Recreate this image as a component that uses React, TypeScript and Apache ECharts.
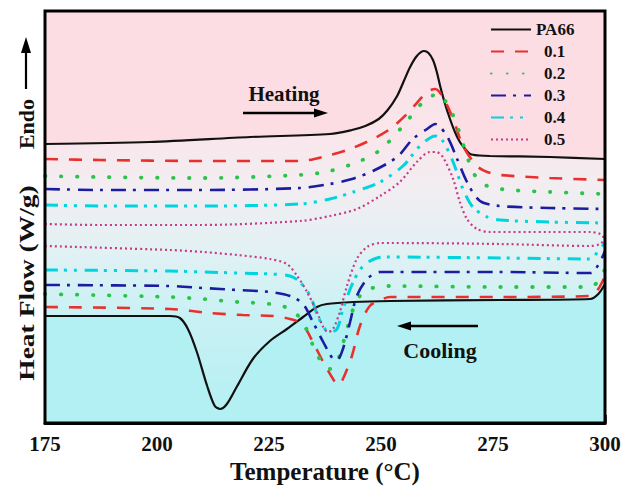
import React, { useEffect, useRef } from "react";
import * as echarts from "echarts";

// Temperature (°C) vs heat flow (arbitrary offset units, plotted stack)
const xTicks = [175, 200, 225, 250, 275, 300];
const sampleNames = ["PA66", "0.1", "0.2", "0.3", "0.4", "0.5"];

const pa66Heating = [[175,279],[198.4,281],[220.8,286],[238.6,289],[243.5,293],[246.5,297],[249.5,304],[251.5,313],[253.6,327],[255.1,342],[256.5,356],[258.0,367],[259.6,372],[260.6,370],[261.6,363],[262.4,352],[263.2,337],[264.3,319],[265.4,304],[266.5,291],[267.6,281],[268.8,274],[269.9,269],[272,267.5],[274.3,267],[287.7,266],[300,264]];
const s01Heating = [[175,264],[187.3,263],[209.6,262],[231.9,262],[238.6,268],[243.1,274],[248.2,284],[252.0,294],[255.8,309],[260.3,331],[262.1,334],[263.8,326],[266.1,304],[268.3,277],[271.4,257],[273.7,251],[276.6,248],[287.7,245],[300,243]];
const s02Heating = [[175,247],[187.3,246],[209.6,245],[231.9,248],[238.6,252],[245.3,262],[249.8,273],[254.9,297],[259.4,321],[262.7,329],[265.4,314],[267.0,297],[269.2,267],[270.5,251],[272.8,239],[276.6,234],[287.7,231],[300,229]];
const s03Heating = [[175,234],[187.3,233],[209.6,233],[231.9,235],[238.6,239],[243.5,244],[248.2,252],[253.6,266],[257.1,284],[260.3,294],[262.1,299],[264.7,287],[267.0,264],[269.2,241],[272.1,222],[276.6,217],[287.7,215],[300,214]];
const s04Heating = [[175,218],[187.3,217],[209.6,217],[231.9,219],[238.6,224],[243.8,231],[249.8,241],[254.9,257],[258.7,277],[262.1,287],[263.8,282],[266.1,261],[268.3,234],[270.5,216],[273.7,206],[276.6,203],[287.7,201],[300,200]];
const s05Heating = [[175,199],[187.3,198],[209.6,198],[231.9,202],[238.6,207],[244.6,214],[249.8,227],[254.2,241],[258.0,261],[260.9,271],[262.3,271],[263.8,266],[266.1,244],[267.6,221],[269.2,204],[271.4,194],[274.3,191],[287.7,191],[296.7,191],[298.9,189],[300,184]];

const pa66Cooling = [[175,107],[202.9,107],[205.1,105],[206.9,94],[208.9,71],[211.2,37],[212.9,17],[214.1,14],[215.6,19],[217.9,37],[221.4,64],[225.2,82],[229.0,94],[232.6,106],[235.7,116],[237.9,119],[243.8,121],[252.0,122],[276.6,123],[296.7,124],[298.5,129],[300,139]];
const s01Cooling = [[175,116],[202.9,114],[211.8,110],[219.2,108],[225.9,107],[229.7,104],[232.4,99],[234.8,81],[237.1,61],[239.3,44],[240.4,38],[241.5,44],[243.5,67],[245.3,97],[247.5,117],[250.4,124],[252.0,126],[276.6,126],[296.7,127],[298.5,134],[300,147]];
const s02Cooling = [[175,129],[202.9,126],[210.3,124],[217.9,121],[225.2,119],[229.7,114],[232.6,101],[234.2,84],[235.9,67],[237.5,56],[238.6,54],[240.2,61],[242.0,87],[243.8,114],[246.0,131],[249.1,136],[252.0,137],[276.6,136],[296.7,136],[298.5,142],[300,154]];
const s03Cooling = [[175,138],[202.9,137],[210.3,135],[217.9,133],[225.2,131],[229.7,127],[232.6,119],[234.8,101],[237.1,81],[239.3,64],[240.2,63],[241.5,74],[243.1,101],[244.6,127],[246.9,144],[249.8,151],[252.0,151],[276.6,151],[296.7,150],[298.5,158],[300,172]];
const s04Cooling = [[175,153],[202.9,152],[210.3,151],[217.9,150],[225.2,149],[229.7,147],[231.9,141],[234.2,127],[235.9,107],[237.5,94],[238.6,91],[240.2,94],[241.5,114],[243.8,141],[246.0,157],[249.1,165],[252.0,166],[276.6,165],[296.7,164],[298.5,172],[300,180]];
const s05Cooling = [[175,177],[202.9,173],[210.3,171],[217.9,168],[225.2,164],[229.0,159],[231.3,147],[233.5,131],[235.7,111],[237.1,96],[238.2,91],[239.3,94],[240.8,111],[242.4,137],[244.6,164],[246.9,176],[249.8,180],[252.0,180],[276.6,179],[296.7,177],[298.9,179],[300,184]];

const heatingSets = [pa66Heating, s01Heating, s02Heating, s03Heating, s04Heating, s05Heating];
const coolingSets = [pa66Cooling, s01Cooling, s02Cooling, s03Cooling, s04Cooling, s05Cooling];

const colors = ["#111111", "#e8302d", "#2bc44a", "#1c1ca0", "#00d4de", "#c93a86"];
const lineStyles: any[] = [
  { width: 2.2, type: "solid" },
  { width: 2.6, type: [13, 11] },
  { width: 3.8, type: [0.5, 15.5], cap: "round" },
  { width: 2.6, type: [15, 7, 3, 8] },
  { width: 3, type: [13, 6, 3, 7, 3, 8] },
  { width: 2.2, type: [2, 3] },
];

const SERIF = "'Liberation Serif', 'Times New Roman', serif";

export default function App() {
  const ref = useRef<HTMLDivElement>(null);
  useEffect(() => {
    if (!ref.current) return;
    const chart = echarts.init(ref.current, undefined, { renderer: "svg" });
    const series: any[] = [];
    sampleNames.forEach((name, i) => {
      const base = {
        type: "line",
        name,
        symbol: "none",
        smooth: 0.3,
        color: colors[i],
        lineStyle: { ...lineStyles[i], color: colors[i] },
      };
      series.push({
        ...base,
        data: heatingSets[i],
        areaStyle: i === 0 ? { origin: "end", color: "#fcdde4", opacity: 1 } : undefined,
      });
      series.push({
        ...base,
        data: coolingSets[i],
        areaStyle: i === 0 ? { origin: "start", color: "#b3f0f3", opacity: 1 } : undefined,
      });
    });

    const arrowHead = (tip: number[], dir: string) => {
      const [x, y] = tip;
      if (dir === "right") return [[x, y], [x - 14, y - 4.5], [x - 14, y + 4.5]];
      if (dir === "left") return [[x, y], [x + 14, y - 4.5], [x + 14, y + 4.5]];
      return [[x, y], [x - 5, y + 16], [x + 5, y + 16]];
    };

    const txt = (text: string, x: number, y: number, size: number, extra: any = {}) => ({
      type: "text",
      x,
      y,
      z: 100,
      ...extra,
      style: {
        text,
        font: `bold ${size}px ${SERIF}`,
        fill: "#111",
        textAlign: "center",
        textVerticalAlign: "middle",
        verticalAlign: "middle",
      },
    });

    chart.setOption({
      animation: false,
      backgroundColor: "#ffffff",
      grid: {
        left: 45,
        right: 21,
        top: 11,
        bottom: 66,
        show: true,
        borderWidth: 0,
        backgroundColor: new echarts.graphic.LinearGradient(0, 0, 0, 1, [
          { offset: 0, color: "#fcdde4" },
          { offset: 0.3, color: "#f9e6eb" },
          { offset: 0.42, color: "#f3edf1" },
          { offset: 0.58, color: "#e2f1f4" },
          { offset: 0.74, color: "#c9f1f4" },
          { offset: 1, color: "#b3f0f3" },
        ]),
      },
      legend: {
        orient: "vertical",
        left: 485,
        top: 16,
        itemWidth: 40,
        itemHeight: 14,
        itemGap: 5,
        itemStyle: { opacity: 0 },
        textStyle: { fontFamily: SERIF, fontWeight: "bold", fontSize: 17, color: "#111" },
        data: sampleNames.map((n, i) =>
          i === 0 ? { name: n } : { name: n, textStyle: { padding: [0, 0, 0, 8] } }
        ),
      },
      xAxis: {
        type: "value",
        min: 175,
        max: 300,
        interval: 25,
        name: "Temperature (°C)",
        nameLocation: "middle",
        nameGap: 34,
        nameTextStyle: { fontFamily: SERIF, fontWeight: "bold", fontSize: 25, color: "#111" },
        axisLine: { show: true, lineStyle: { color: "#000", width: 3 } },
        axisTick: { show: true, inside: true, length: 8, lineStyle: { color: "#000", width: 2.5 } },
        minorTick: { show: true, splitNumber: 2, length: 5, lineStyle: { color: "#000", width: 2.5 } },
        axisLabel: {
          margin: 10,
          fontFamily: SERIF,
          fontWeight: "bold",
          fontSize: 21,
          color: "#111",
          customValues: xTicks,
        },
        splitLine: { show: false },
      },
      yAxis: {
        type: "value",
        min: 0,
        max: 412,
        axisLine: { show: false },
        axisTick: { show: false },
        axisLabel: { show: false },
        splitLine: { show: false },
      },
      series,
      graphic: [
        {
          type: "rect",
          z: 100,
          shape: { x: 45, y: 11, width: 560, height: 412 },
          style: { fill: "none", stroke: "#000", lineWidth: 3 },
        },
        txt("Heating", 284, 94, 21),
        { type: "line", z: 100, shape: { x1: 243, y1: 113, x2: 318, y2: 113 }, style: { stroke: "#000", lineWidth: 2.5 } },
        { type: "polygon", z: 100, shape: { points: arrowHead([328, 113], "right") }, style: { fill: "#000" } },
        txt("Cooling", 440, 350, 22),
        { type: "line", z: 100, shape: { x1: 478, y1: 326, x2: 407, y2: 326 }, style: { stroke: "#000", lineWidth: 2.5 } },
        { type: "polygon", z: 100, shape: { points: arrowHead([397, 326], "left") }, style: { fill: "#000" } },
        txt("Heat Flow (W/g)", 26, 283, 22, { rotation: Math.PI / 2, scaleX: 1.25 }),
        txt("Endo", 26, 124, 22, { rotation: Math.PI / 2 }),
        { type: "line", z: 100, shape: { x1: 26, y1: 89, x2: 26, y2: 50 }, style: { stroke: "#000", lineWidth: 2.2 } },
        { type: "polygon", z: 100, shape: { points: arrowHead([26, 37], "up") }, style: { fill: "#000" } },
      ],
    });
    return () => chart.dispose();
  }, []);
  return (
    <div style={{ position: "fixed", left: 0, top: 0, width: 626, height: 489, background: "#fff" }}>
      <div ref={ref} style={{ width: 626, height: 489 }} />
    </div>
  );
}
